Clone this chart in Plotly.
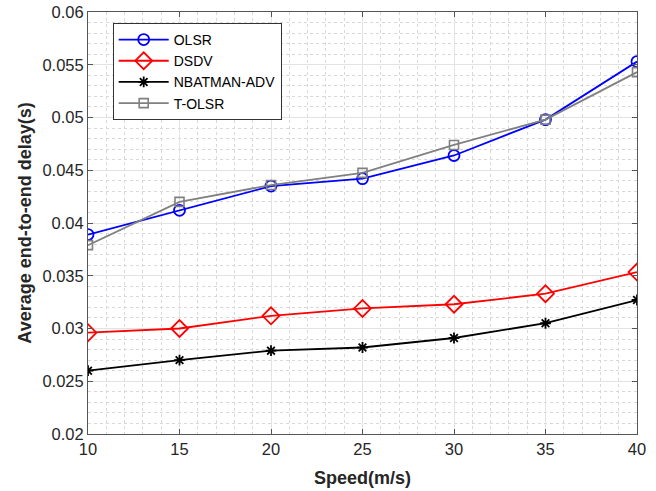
import plotly.graph_objects as go

speed = [10, 15, 20, 25, 30, 35, 40]
olsr = [0.0389, 0.0412, 0.0435, 0.0442, 0.0464, 0.0498, 0.0553]
dsdv = [0.0296, 0.0300, 0.0312, 0.0319, 0.0323, 0.0333, 0.03535]
nbatman = [0.0260, 0.0270, 0.0279, 0.0282, 0.0291, 0.0305, 0.0327]
tolsr = [0.0379, 0.0420, 0.0436, 0.04475, 0.0474, 0.0498, 0.0543]

y_ticks = [0.02, 0.025, 0.03, 0.035, 0.04, 0.045, 0.05, 0.055, 0.06]
y_tick_text = ["0.02", "0.025", "0.03", "0.035", "0.04", "0.045", "0.05", "0.055", "0.06"]
x_ticks = [10, 15, 20, 25, 30, 35, 40]

fig = go.Figure()
fig.add_trace(go.Scatter(x=speed, y=olsr, name="OLSR", mode="lines+markers",
                         line=dict(color="#0000FF", width=1.8),
                         marker=dict(symbol="circle-open", size=11, color="#0000FF", line=dict(width=1.8))))
fig.add_trace(go.Scatter(x=speed, y=dsdv, name="DSDV", mode="lines+markers",
                         line=dict(color="#FF0000", width=1.8),
                         marker=dict(symbol="diamond-open", size=13, color="#FF0000", line=dict(width=1.8))))
fig.add_trace(go.Scatter(x=speed, y=nbatman, name="NBATMAN-ADV", mode="lines+markers",
                         line=dict(color="#000000", width=1.8),
                         marker=dict(symbol="asterisk-open", size=9, color="#000000", line=dict(width=1.8))))
fig.add_trace(go.Scatter(x=speed, y=tolsr, name="T-OLSR", mode="lines+markers",
                         line=dict(color="#808080", width=1.8),
                         marker=dict(symbol="square-open", size=9, color="#808080", line=dict(width=1.6))))

axis_common = dict(
    showline=True, linecolor="#555555", linewidth=1, mirror="ticks",
    ticks="inside", ticklen=5, tickcolor="#555555",
    showgrid=True, gridcolor="#E3E3E3", gridwidth=1, zeroline=False,
    tickfont=dict(family="Liberation Sans, Arial", size=16.5, color="#262626"),
    automargin=False,
)

fig.update_xaxes(range=[10, 40], tickvals=x_ticks,
                 minor=dict(dtick=1, showgrid=True, gridcolor="#D8D8D8", griddash="dot", gridwidth=1, ticks=""),
                 title=dict(text="<b>Speed(m/s)</b>", font=dict(family="Liberation Sans, Arial", size=18, color="#262626"), standoff=14),
                 **axis_common)
fig.update_yaxes(range=[0.02, 0.06], tickvals=y_ticks, ticktext=y_tick_text,
                 minor=dict(dtick=0.001, showgrid=True, gridcolor="#D8D8D8", griddash="dot", gridwidth=1, ticks=""),
                 title=dict(text="<b>Average end-to-end delay(s)</b>", font=dict(family="Liberation Sans, Arial", size=18, color="#262626"), standoff=6),
                 **axis_common)

fig.update_layout(
    width=656, height=491,
    margin=dict(l=88, r=19, t=12, b=57),
    paper_bgcolor="white", plot_bgcolor="white",
    showlegend=True,
    legend=dict(x=0.045, y=0.974, xanchor="left", yanchor="top",
                bgcolor="white", bordercolor="#333333", borderwidth=1,
                font=dict(family="Liberation Sans, Arial", size=14, color="#000000"),
                itemwidth=50, tracegroupgap=0),
)

fig.write_html("out.html")
